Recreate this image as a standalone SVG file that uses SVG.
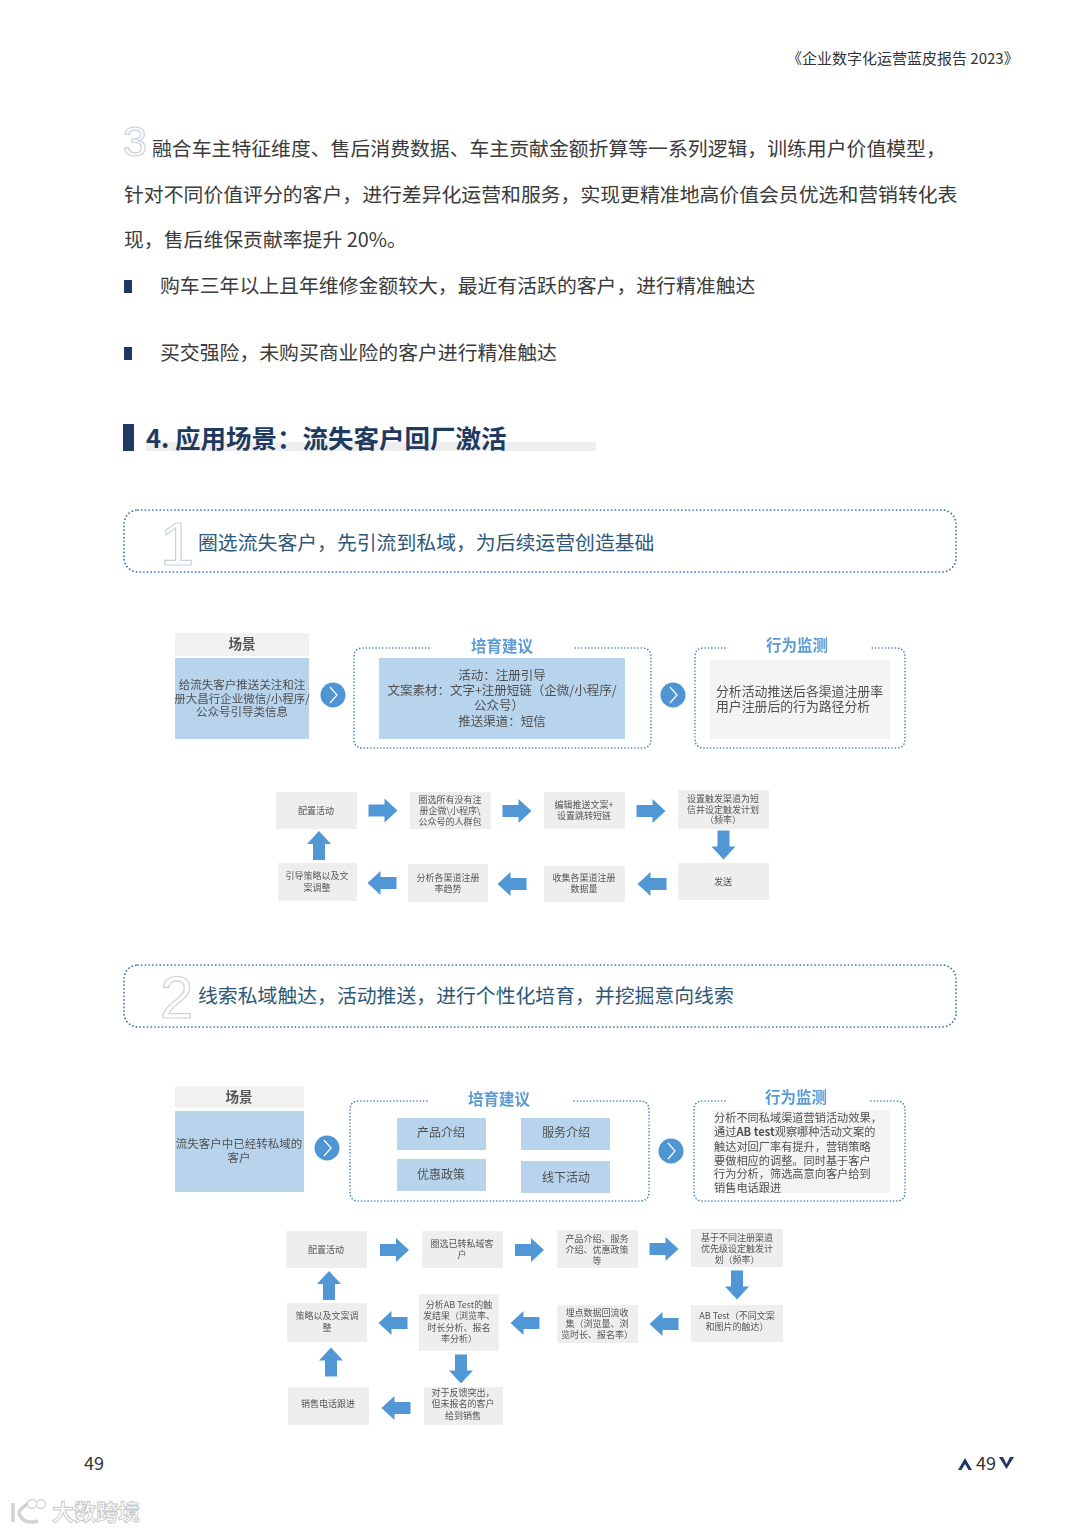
<svg xmlns="http://www.w3.org/2000/svg" xmlns:xlink="http://www.w3.org/1999/xlink" width="1080" height="1532" viewBox="0 0 1080 1532">
<style>
text{font-family:"Noto Sans CJK SC","Noto Sans",sans-serif}
.body{font-size:19.85px;fill:#3b3b3b}
.ban{font-size:19.85px;fill:#2f5878}
.ttl{font-size:25.5px;font-weight:700;fill:#1f3a5f}
.big{font-family:"Liberation Sans","Noto Sans",sans-serif;fill:#fff;stroke:#c9d3dc;stroke-width:1.2}
.dot{fill:none;stroke:#3f7fb8;stroke-width:1.6;stroke-linecap:round;stroke-dasharray:.1 3.2}
.banl{fill:none;stroke:#2f6ea8;stroke-width:1.7;stroke-linecap:round;stroke-dasharray:.1 3.6}
.bl{fill:#b8d3ec}.gr{fill:#eeeeee}.hd{fill:#f1f1f1}
.t{font-size:12px;fill:#505050;text-anchor:middle}
.tl{font-size:12.85px;fill:#505050}
.s{font-size:9px;fill:#555;text-anchor:middle}
.h{font-size:13.5px;font-weight:700;fill:#555;text-anchor:middle}
.b{font-size:15.5px;font-weight:700;fill:#5b9bd5;text-anchor:middle}
.ar{fill:#5197d5}
.nav{fill:#1f3864}
.soft{filter:url(#bl)}
</style>
<defs>
<filter id="bl" x="-5%" y="-5%" width="110%" height="110%"><feGaussianBlur stdDeviation="0.4"/></filter>
<path id="a" d="M-14.5-6H1.5V-12L14.5 0 1.5 12V6H-14.5Z"/>
<g id="c"><circle r="12.5" fill="#4f95d3"/><path d="M-3-8L4 0-3 8" fill="none" stroke="#fff" stroke-width="1.2"/></g>
</defs>
<rect width="1080" height="1532" fill="#fff"/>

<g id="page-header"><text x="787" y="64" font-size="15" fill="#333">《企业数字化运营蓝皮报告 2023》</text></g>

<g id="intro">
<text class="big" x="123" y="156" font-size="43" font-weight="400">3</text>
<text class="body" x="152" y="156">融合车主特征维度、售后消费数据、车主贡献金额折算等一系列逻辑，训练用户价值模型，</text>
<text class="body" x="124" y="201.500">针对不同价值评分的客户，进行差异化运营和服务，实现更精准地高价值会员优选和营销转化表</text>
<text class="body" x="124" y="247">现，售后维保贡献率提升 20%。</text>
<rect class="nav" x="124" y="280" width="8" height="13"/>
<text class="body" x="160" y="293">购车三年以上且年维修金额较大，最近有活跃的客户，进行精准触达</text>
<rect class="nav" x="124" y="347" width="8" height="13"/>
<text class="body" x="160" y="360">买交强险，未购买商业险的客户进行精准触达</text>
</g>

<g id="section-title">
<rect x="146" y="442" width="450" height="9" fill="#eeeeee"/>
<rect class="nav" x="123" y="424" width="11" height="27"/>
<text class="ttl" x="146" y="448">4. 应用场景：流失客户回厂激活</text>
</g>

<g id="banner-1">
<rect class="banl" x="124" y="510" width="832" height="62" rx="14"/>
<text class="big" x="160" y="565" font-size="62">1</text>
<text class="ban" x="198" y="550">圈选流失客户，先引流到私域，为后续运营创造基础</text>
</g>

<g class="soft">
<g id="d1-scene">
<rect class="hd" x="175" y="633" width="134" height="23"/>
<text class="h" x="242" y="649">场景</text>
<rect class="bl" x="175" y="658" width="134" height="81"/>
<text class="t" x="242" y="689" style="font-size:11.5px">给流失客户推送关注和注</text>
<text class="t" x="242" y="702.500" style="font-size:11.5px">册大昌行企业微信/小程序/</text>
<text class="t" x="242" y="716" style="font-size:11.500px">公众号引导类信息</text>
</g>
<g id="d1-advice">
<path class="dot" d="M429 648H363Q354 648 354 657V739Q354 748 363 748H642Q651 748 651 739V657Q651 648 642 648H575"/>
<text class="b" x="502" y="652">培育建议</text>
<rect class="bl" x="379" y="658" width="246" height="81"/>
<text class="t" x="502" y="680" style="font-size:12.500px">活动：注册引导</text>
<text class="t" x="502" y="695" style="font-size:12.500px">文案素材：文字+注册短链（企微/小程序/</text>
<text class="t" x="499" y="710" style="font-size:12.500px">公众号）</text>
<text class="t" x="502" y="726" style="font-size:12.500px">推送渠道：短信</text>
</g>
<g id="d1-monitor">
<path class="dot" d="M725 648H704Q695 648 695 657V739Q695 748 704 748H896Q905 748 905 739V657Q905 648 896 648H872"/>
<text class="b" x="797" y="651">行为监测</text>
<rect x="710" y="660" width="180" height="79" fill="#f4f4f4"/>
<text class="tl" x="716" y="696">分析活动推送后各渠道注册率</text>
<text class="tl" x="716" y="711">用户注册后的行为路径分析</text>
</g>
<g id="d1-n1"><rect class="gr" x="276" y="792" width="81" height="37"/><text class="s" x="316" y="813.500">配置活动</text></g>
<g id="d1-n2"><rect class="gr" x="410" y="792" width="81" height="37"/><text class="s" x="450" y="803">圈选所有没有注</text><text class="s" x="450" y="814">册企微\小程序\</text><text class="s" x="450" y="825">公众号的人群包</text></g>
<g id="d1-n3"><rect class="gr" x="544" y="792" width="81" height="37"/><text class="s" x="584" y="808">编辑推送文案+</text><text class="s" x="584" y="819">设置跳转短链</text></g>
<g id="d1-n4"><rect class="gr" x="678" y="790" width="91" height="39"/><text class="s" x="723" y="802">设置触发渠道为短</text><text class="s" x="723" y="813">信并设定触发计划</text><text class="s" x="723" y="823">（频率）</text></g>
<g id="d1-n5"><rect class="gr" x="678" y="863" width="91" height="37"/><text class="s" x="723" y="885">发送</text></g>
<g id="d1-n6"><rect class="gr" x="544" y="866" width="81" height="36"/><text class="s" x="584" y="881">收集各渠道注册</text><text class="s" x="584" y="892">数据量</text></g>
<g id="d1-n7"><rect class="gr" x="408" y="864" width="80" height="38"/><text class="s" x="448" y="881">分析各渠道注册</text><text class="s" x="448" y="892">率趋势</text></g>
<g id="d1-n8"><rect class="gr" x="278" y="863" width="79" height="38"/><text class="s" x="317" y="879">引导策略以及文</text><text class="s" x="317" y="891">案调整</text></g>
<g id="d1-connectors" class="ar">
<use href="#c" x="333" y="695"/><use href="#c" x="673" y="695"/>
<use href="#a" transform="translate(383 810.500)"/>
<use href="#a" transform="translate(517 811)"/>
<use href="#a" transform="translate(651 811)"/>
<use href="#a" transform="translate(723.500 845) rotate(90)"/>
<use href="#a" transform="translate(652 884) rotate(180)"/>
<use href="#a" transform="translate(512 884) rotate(180)"/>
<use href="#a" transform="translate(382 883) rotate(180)"/>
<use href="#a" transform="translate(319 845.500) rotate(-90)"/>
</g>
</g>

<g id="banner-2">
<rect class="banl" x="124" y="965" width="832" height="62" rx="14"/>
<text class="big" x="160" y="1018" font-size="60">2</text>
<text class="ban" x="198" y="1003">线索私域触达，活动推送，进行个性化培育，并挖掘意向线索</text>
</g>

<g class="soft">
<g id="d2-scene">
<rect class="hd" x="175" y="1086" width="129" height="22"/>
<text class="h" x="239" y="1102">场景</text>
<rect class="bl" x="175" y="1111" width="129" height="81"/>
<text class="t" x="239" y="1148" style="font-size:11.500px">流失客户中已经转私域的</text>
<text class="t" x="239" y="1162" style="font-size:11.500px">客户</text>
</g>
<g id="d2-advice">
<path class="dot" d="M427 1101H359Q350 1101 350 1110V1192Q350 1201 359 1201H640Q649 1201 649 1192V1110Q649 1101 640 1101H572"/>
<text class="b" x="499" y="1105">培育建议</text>
<rect class="bl" x="397" y="1118" width="89" height="32"/><text class="t" x="441" y="1137">产品介绍</text>
<rect class="bl" x="521" y="1118" width="89" height="32"/><text class="t" x="566" y="1137">服务介绍</text>
<rect class="bl" x="397" y="1159" width="89" height="32"/><text class="t" x="441" y="1179">优惠政策</text>
<rect class="bl" x="521" y="1161" width="89" height="32"/><text class="t" x="566" y="1182">线下活动</text>
</g>
<g id="d2-monitor">
<path class="dot" d="M725 1101H703Q694 1101 694 1110V1192Q694 1201 703 1201H896Q905 1201 905 1192V1110Q905 1101 896 1101H870"/>
<text class="b" x="796" y="1103">行为监测</text>
<rect x="713" y="1110" width="177" height="83" fill="#f4f4f4"/>
<g style="font-size:11.200px;fill:#505050">
<text x="714" y="1122">分析不同私域渠道营销活动效果，</text>
<text x="714" y="1136">通过<tspan font-weight="700">AB test</tspan>观察哪种活动文案的</text>
<text x="714" y="1151">触达对回厂率有提升，营销策略</text>
<text x="714" y="1165">要做相应的调整。同时基于客户</text>
<text x="714" y="1178">行为分析，筛选高意向客户给到</text>
<text x="714" y="1192">销售电话跟进</text>
</g>
</g>
<g id="d2-n1"><rect class="gr" x="286" y="1231" width="81" height="37"/><text class="s" x="326" y="1253">配置活动</text></g>
<g id="d2-n2"><rect class="gr" x="422" y="1231" width="81" height="37"/><text class="s" x="462" y="1247">圈选已转私域客</text><text class="s" x="462" y="1258">户</text></g>
<g id="d2-n3"><rect class="gr" x="557" y="1230" width="81" height="38"/><text class="s" x="597" y="1242">产品介绍、服务</text><text class="s" x="597" y="1253">介绍、优惠政策</text><text class="s" x="597" y="1264">等</text></g>
<g id="d2-n4"><rect class="gr" x="691" y="1229" width="92" height="38"/><text class="s" x="737" y="1241">基于不同注册渠道</text><text class="s" x="737" y="1252">优先级设定触发计</text><text class="s" x="737" y="1263">划（频率）</text></g>
<g id="d2-n5"><rect class="gr" x="691" y="1305" width="92" height="37"/><text class="s" x="737" y="1319">AB Test（不同文案</text><text class="s" x="737" y="1330">和图片的触达）</text></g>
<g id="d2-n6"><rect class="gr" x="557" y="1305" width="81" height="38"/><text class="s" x="597" y="1316">埋点数据回流收</text><text class="s" x="597" y="1327">集（浏览量、浏</text><text class="s" x="597" y="1338">览时长、报名率）</text></g>
<g id="d2-n7"><rect class="gr" x="419" y="1294" width="80" height="57"/><text class="s" x="459" y="1308">分析AB Test的触</text><text class="s" x="459" y="1319">发结果（浏览率、</text><text class="s" x="459" y="1331">时长分析、报名</text><text class="s" x="459" y="1342">率分析）</text></g>
<g id="d2-n8"><rect class="gr" x="287" y="1303" width="80" height="39"/><text class="s" x="327" y="1319">策略以及文案调</text><text class="s" x="327" y="1331">整</text></g>
<g id="d2-n9"><rect class="gr" x="288" y="1387" width="81" height="38"/><text class="s" x="328" y="1407">销售电话跟进</text></g>
<g id="d2-n10"><rect class="gr" x="424" y="1387" width="79" height="38"/><text class="s" x="463" y="1396">对于反馈突出，</text><text class="s" x="463" y="1407">但未报名的客户</text><text class="s" x="463" y="1419">给到销售</text></g>
<g id="d2-connectors" class="ar">
<use href="#c" x="327" y="1148"/><use href="#c" x="671" y="1151"/>
<use href="#a" transform="translate(394.500 1250)"/>
<use href="#a" transform="translate(529.500 1250)"/>
<use href="#a" transform="translate(664 1249)"/>
<use href="#a" transform="translate(737 1285) rotate(90)"/>
<use href="#a" transform="translate(664 1324) rotate(180)"/>
<use href="#a" transform="translate(525 1323) rotate(180)"/>
<use href="#a" transform="translate(393 1323) rotate(180)"/>
<use href="#a" transform="translate(329 1285.500) rotate(-90)"/>
<use href="#a" transform="translate(331 1362) rotate(-90)"/>
<use href="#a" transform="translate(461 1369) rotate(90)"/>
<use href="#a" transform="translate(396 1408) rotate(180)"/>
</g>
</g>

<g id="footer">
<text x="84" y="1470" font-size="18" fill="#333">49</text>
<text x="976" y="1470" font-size="18" fill="#333">49</text>
<path class="nav" d="M958 1470L965 1458 972 1470 968.500 1470 965 1464 961.500 1470Z"/>
<path class="nav" d="M999 1457H1003L1006.500 1464 1010 1457H1014L1006.500 1469Z"/>
</g>

<g id="watermark">
<path d="M13 1503V1522M30 1502Q18 1510 19 1514Q24 1525 38 1521" fill="none" stroke="#cfd3d6" stroke-width="3.500"/>
<circle cx="32" cy="1504" r="4.500" fill="#fff" stroke="#cfd3d6" stroke-width="1.300"/>
<circle cx="41" cy="1504" r="4.500" fill="#fff" stroke="#cfd3d6" stroke-width="1.300"/>
<text x="52" y="1520" font-size="22" font-weight="700" fill="#fff" stroke="#c4c8cb" stroke-width="0.900">大数跨境</text>
</g>
</svg>
